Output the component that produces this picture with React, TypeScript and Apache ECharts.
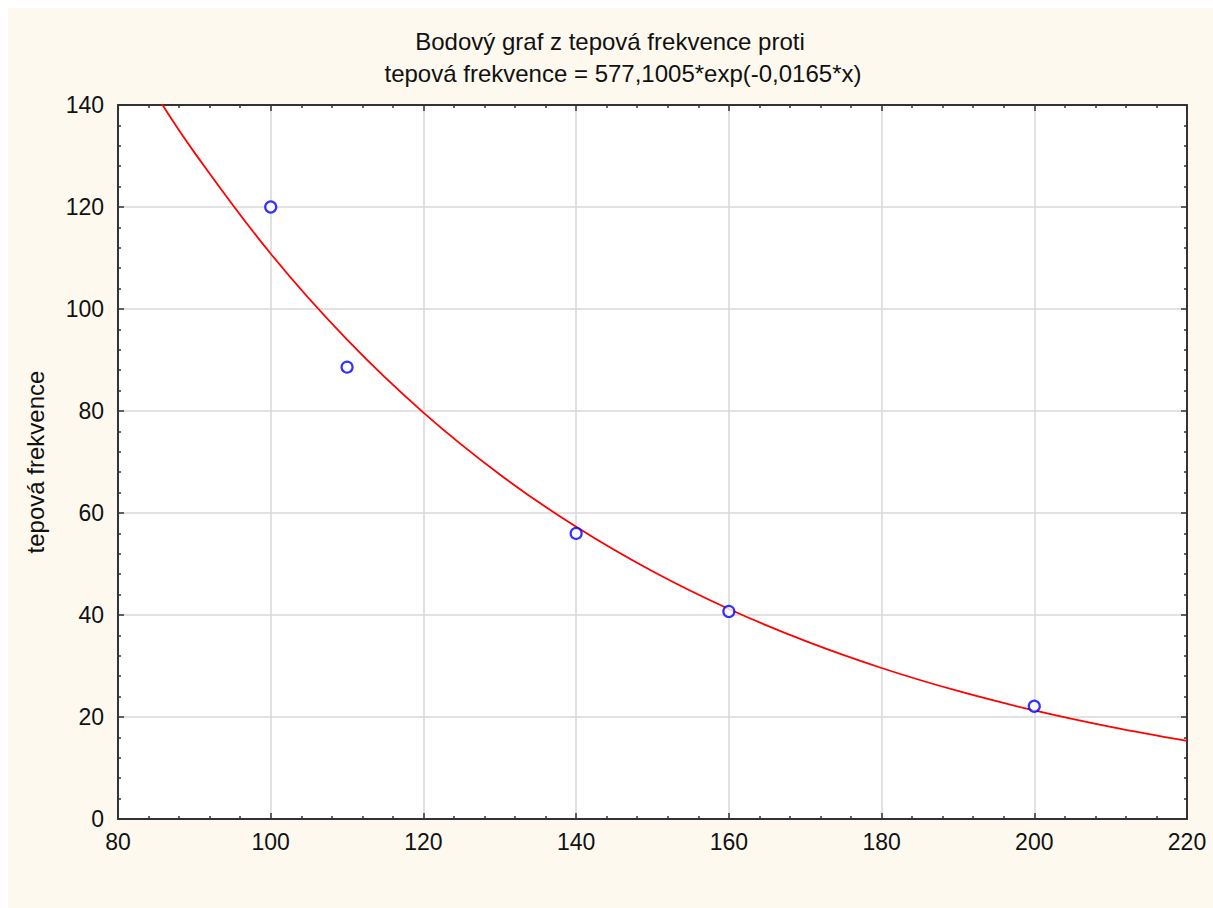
import React, { useEffect, useRef } from "react";
import * as echarts from "echarts";

const titleLine1 = "Bodový graf z tepová frekvence proti";
const titleLine2 = "tepová frekvence = 577,1005*exp(-0,0165*x)";
const yAxisName = "tepová frekvence";

// observed points
const pointX = [100, 110, 140, 160, 200];
const pointY = [120, 88.6, 56, 40.7, 22.1];

// fitted curve
const curveX = [85, 90, 100, 110, 120, 130, 140, 150, 160, 170, 180, 190, 200, 210, 220];
const curveY = [141.96, 130.71, 110.83, 93.98, 79.68, 67.56, 57.29, 48.57, 41.18, 34.92, 29.61, 25.1, 21.28, 18.05, 15.3];

const xMin = 80, xMax = 220, xStep = 20;
const yMin = 0, yMax = 140, yStep = 20;

export default function App() {
  const ref = useRef<HTMLDivElement>(null);
  useEffect(() => {
    if (!ref.current) return;
    const chart = echarts.init(ref.current, null, { renderer: "svg" });
    const font = "Liberation Sans, Arial, sans-serif";
    const axisCommon = (isX: boolean, main: boolean) => ({
      type: "value",
      min: isX ? xMin : yMin,
      max: isX ? xMax : yMax,
      interval: isX ? xStep : yStep,
      axisLine: { show: true, onZero: false, lineStyle: { color: "#333", width: 2 } },
      axisTick: { show: true, inside: true, length: 6, lineStyle: { color: "#333", width: 1.5 } },
      minorTick: { show: true, splitNumber: 5, length: 3, lineStyle: { color: "#333", width: 1.5 } },
      axisLabel: main
        ? { show: true, color: "#111", fontSize: 23, fontFamily: font, margin: isX ? 11 : 14 }
        : { show: false },
      splitLine: main ? { show: true, lineStyle: { color: "#d9d9d9", width: 1.5 } } : { show: false },
      minorSplitLine: { show: false },
    });
    chart.setOption({
      animation: false,
      backgroundColor: "#fdf9ef",
      grid: { left: 110, top: 97, width: 1069, height: 714, show: true, backgroundColor: "#ffffff", borderWidth: 0 },
      xAxis: [
        { ...axisCommon(true, true), position: "bottom" },
        { ...axisCommon(true, false), position: "top" },
      ],
      yAxis: [
        { ...axisCommon(false, true), position: "left" },
        { ...axisCommon(false, false), position: "right" },
      ],
      graphic: [
        {
          type: "text", x: 602, y: 33,
          style: { text: titleLine1, font: `24px ${font}`, fill: "#111", textAlign: "center", textVerticalAlign: "middle" },
        },
        {
          type: "text", x: 615, y: 65,
          style: { text: titleLine2, font: `24px ${font}`, fill: "#111", textAlign: "center", textVerticalAlign: "middle" },
        },
        {
          type: "text", x: 27, y: 454, rotation: Math.PI / 2,
          style: { text: yAxisName, font: `24px ${font}`, fill: "#111", textAlign: "center", textVerticalAlign: "middle" },
        },
      ],
      series: [
        {
          type: "line",
          xAxisIndex: 0, yAxisIndex: 0,
          data: curveX.map((x, i) => [x, curveY[i]]),
          smooth: 0.4,
          showSymbol: false,
          clip: true,
          lineStyle: { color: "#ff0000", width: 1.8 },
          z: 2,
        },
        {
          type: "scatter",
          xAxisIndex: 0, yAxisIndex: 0,
          data: pointX.map((x, i) => [x, pointY[i]]),
          symbol: "circle",
          symbolSize: 11,
          itemStyle: { color: "#ffffff", borderColor: "#0000ff", borderWidth: 2.2 },
          z: 3,
        },
      ],
    });
    return () => chart.dispose();
  }, []);
  return (
    <div
      ref={ref}
      style={{ position: "absolute", left: 8, top: 8, width: 1205, height: 900 }}
    />
  );
}
